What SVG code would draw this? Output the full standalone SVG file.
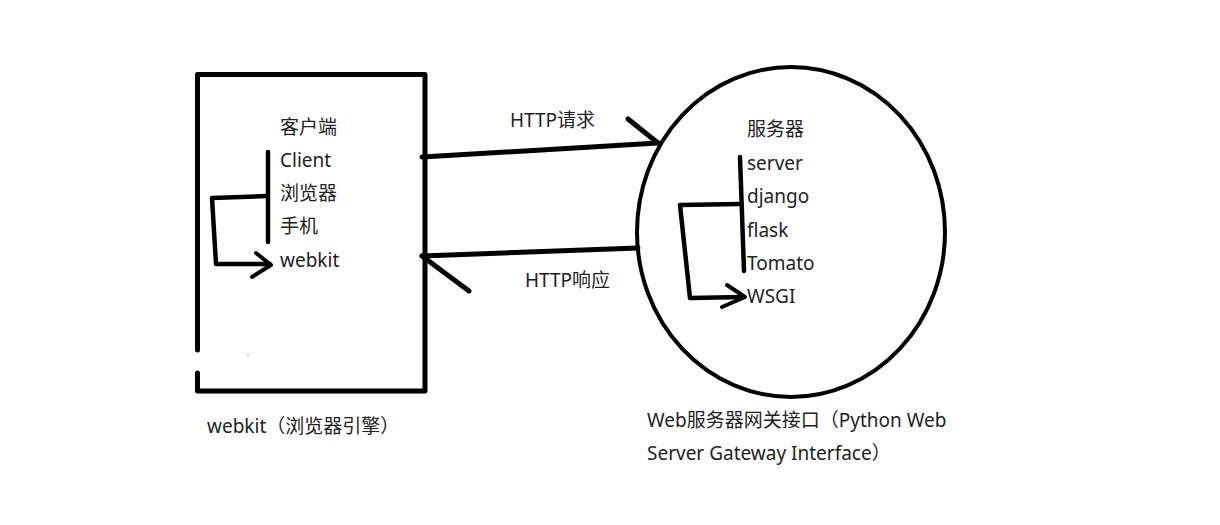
<svg xmlns="http://www.w3.org/2000/svg" width="1220" height="525" viewBox="0 0 1220 525">
<style>
.t{font-family:"Noto Sans","Noto Sans CJK SC",sans-serif;font-size:19px;fill:#222}
.s{fill:none;stroke:#000;stroke-linecap:round;stroke-linejoin:round}
</style>
<rect width="1220" height="525" fill="#fff"/>
<g id="client">
<path class="s" stroke-width="5" stroke-linecap="butt" d="M197.5,350 V74.5 H425 V391 H197.5 V373"/>
<circle cx="248" cy="355" r="0.8" fill="#999"/>
<text class="t" x="280" y="134">客户端</text>
<text class="t" x="280" y="167">Client</text>
<text class="t" x="280" y="200">浏览器</text>
<text class="t" x="280" y="233">手机</text>
<text class="t" x="280" y="267">webkit</text>
<path class="s" stroke-width="4.5" d="M268,152 V242"/>
<path class="s" stroke-width="4.5" d="M267,196 L212,198 L216,264 L270,264"/>
<path class="s" stroke-width="4" d="M256,253 L271,265 L252,277"/>
<text class="t" x="207" y="433">webkit（浏览器引擎）</text>
</g>
<g id="server">
<ellipse class="s" stroke-width="4" cx="791" cy="232" rx="154" ry="165"/>
<text class="t" x="747" y="136">服务器</text>
<text class="t" x="747" y="170">server</text>
<text class="t" x="747" y="203">django</text>
<text class="t" x="747" y="237">flask</text>
<text class="t" x="747" y="270">Tomato</text>
<text class="t" x="747" y="303">WSGI</text>
<path class="s" stroke-width="4.5" d="M740,157 L744,271"/>
<path class="s" stroke-width="4.5" d="M740,204 L680,205 L690,298 L743,297"/>
<path class="s" stroke-width="4" d="M727,285 L745,297 L722,307"/>
<text class="t" x="647" y="427">Web服务器网关接口（Python Web</text>
<text class="t" x="647" y="460">Server Gateway Interface）</text>
</g>
<g id="connectors">
<path class="s" stroke-width="5" d="M422,157 L658,143"/>
<path class="s" stroke-width="5" d="M628,119 L658,143"/>
<text class="t" x="510" y="127">HTTP请求</text>
<path class="s" stroke-width="5" d="M422,256 L638,248"/>
<path class="s" stroke-width="5" d="M422,256 L469,291"/>
<text class="t" x="525" y="287">HTTP响应</text>
</g>
</svg>
